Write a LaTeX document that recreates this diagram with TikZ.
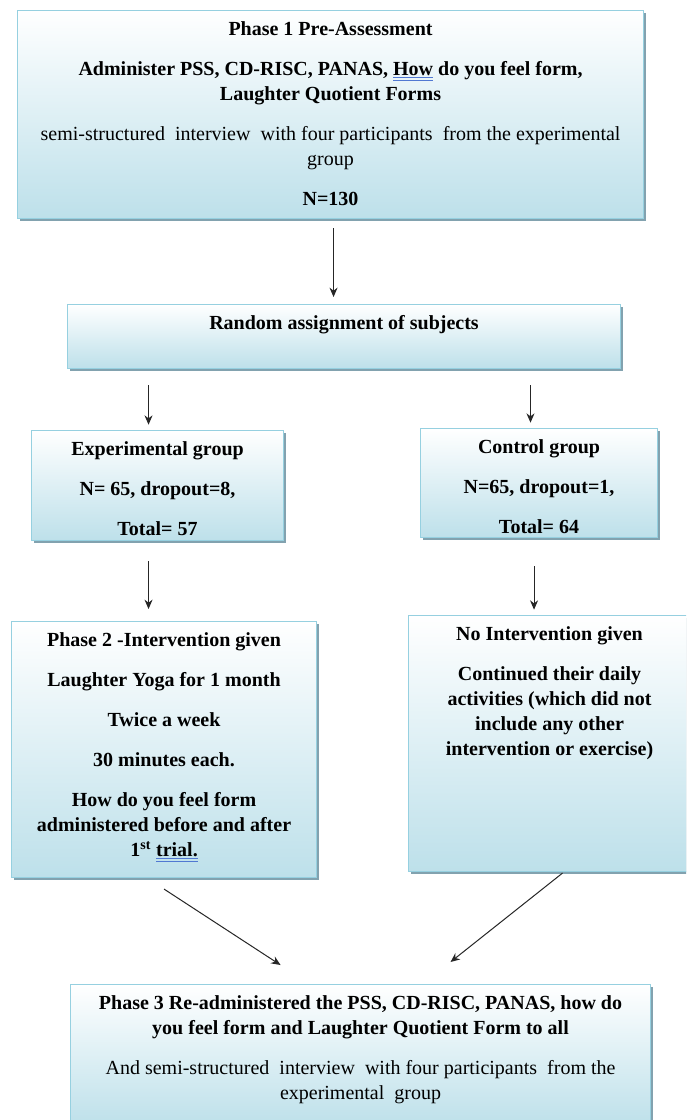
\documentclass[tikz,border=0pt]{standalone}
\usepackage{fontspec}
\setmainfont{Liberation Serif}
\usetikzlibrary{arrows.meta,shadows,calc}
\definecolor{boxblue}{RGB}{189,224,234}
\definecolor{boxborder}{RGB}{150,208,224}
\definecolor{boxshadow}{RGB}{130,162,175}
\definecolor{gramblue}{RGB}{80,120,210}
\newcommand\gram[1]{{\color{gramblue}\underline{\underline{\color{black}#1}}}}
\newcommand\boxtext[3]{\parbox[t][#2][t]{#1}{\centering\vspace*{5.3pt}\strut #3\par}}
\newcommand\pg{\\[11.25pt]}
\tikzset{
  box/.style={draw=boxborder, line width=0.8pt, top color=white, bottom color=boxblue,
    inner sep=0pt, anchor=north west,
    drop shadow={shadow xshift=1.6pt, shadow yshift=-2pt, fill=boxshadow, opacity=1}},
  arr/.style={-{Stealth[length=7pt,width=6pt]}, line width=0.75pt, black!85},
}
\begin{document}
\begin{tikzpicture}[x=0.75pt,y=-0.75pt, font=\fontsize{15}{18.75}\selectfont]
\fill[white] (0,0) rectangle (686,1120);
\useasboundingbox (0,0) rectangle (686,1120);
\clip (0,0) rectangle (686,1120);

\node[box] (p1) at (17,10) {\boxtext{469.5pt}{156pt}{%
\textbf{Phase 1 Pre-Assessment}\pg
\textbf{Administer PSS, CD-RISC, PANAS, \gram{How} do you feel form,}\\
\textbf{Laughter Quotient Forms}\pg
semi-structured\ \ interview\ \ with four participants\ \ from the experimental\\
group\pg
\textbf{N=130}}};

\node[box] (rand) at (67,304) {\boxtext{414.75pt}{48pt}{%
\textbf{Random assignment of subjects}}};

\node[box] (exp) at (31,430) {\boxtext{189pt}{82.5pt}{%
\textbf{Experimental group}\pg
\textbf{N= 65, dropout=8,}\pg
\textbf{Total= 57}}};

\node[box] (ctrl) at (420,428) {\boxtext{177.75pt}{81.75pt}{%
\textbf{Control group}\pg
\textbf{N=65, dropout=1,}\pg
\textbf{Total= 64}}};

\node[box] (p2) at (11,621) {\boxtext{228.75pt}{192pt}{\bfseries
Phase 2 -Intervention given\pg
Laughter Yoga for 1 month\pg
Twice a week\pg
30 minutes each.\pg
How do you feel form\\
administered before and after\\
1\textsuperscript{st} \gram{trial.}}};

\node[box] (noint) at (408,615) {\boxtext{211.5pt}{192pt}{\bfseries
No Intervention given\pg
Continued their daily\\
activities (which did not\\
include any other\\
intervention or exercise)}};

\node[box] (p3) at (70,984) {\boxtext{435pt}{106pt}{%
\textbf{Phase 3 Re-administered the PSS, CD-RISC, PANAS, how do}\\
\textbf{you feel form and Laughter Quotient Form to all}\pg
And semi-structured\ \ interview\ \ with four participants\ \ from the\\
experimental\ \ group}};

\draw[arr, shorten <=6.75pt, shorten >=5.25pt]
  ([xshift=2.25pt]p1.south) -- ([xshift=2.25pt]p1.south |- rand.north);
\draw[arr, shorten <=12pt, shorten >=4pt]
  ([xshift=-6.75pt]exp.north |- rand.south) -- ([xshift=-6.75pt]exp.north);
\draw[arr, shorten <=12pt, shorten >=4pt]
  ([xshift=-6.4pt]ctrl.north |- rand.south) -- ([xshift=-6.4pt]ctrl.north);
\draw[arr, shorten <=15pt, shorten >=9pt]
  ([xshift=-6.75pt]exp.south) -- ([xshift=-6.75pt]exp.south |- p2.north);
\draw[arr, shorten <=21pt, shorten >=4pt]
  ([xshift=-3.75pt]ctrl.south) -- ([xshift=-3.75pt]ctrl.south |- noint.north);
\draw[arr] ($(p2.south)+(0,11)$) -- ($(p3.north)+(-80,-19)$);
\draw[arr] ($(noint.south)+(13,1)$) -- ($(p3.north)+(90,-22)$);
\end{tikzpicture}
\end{document}
